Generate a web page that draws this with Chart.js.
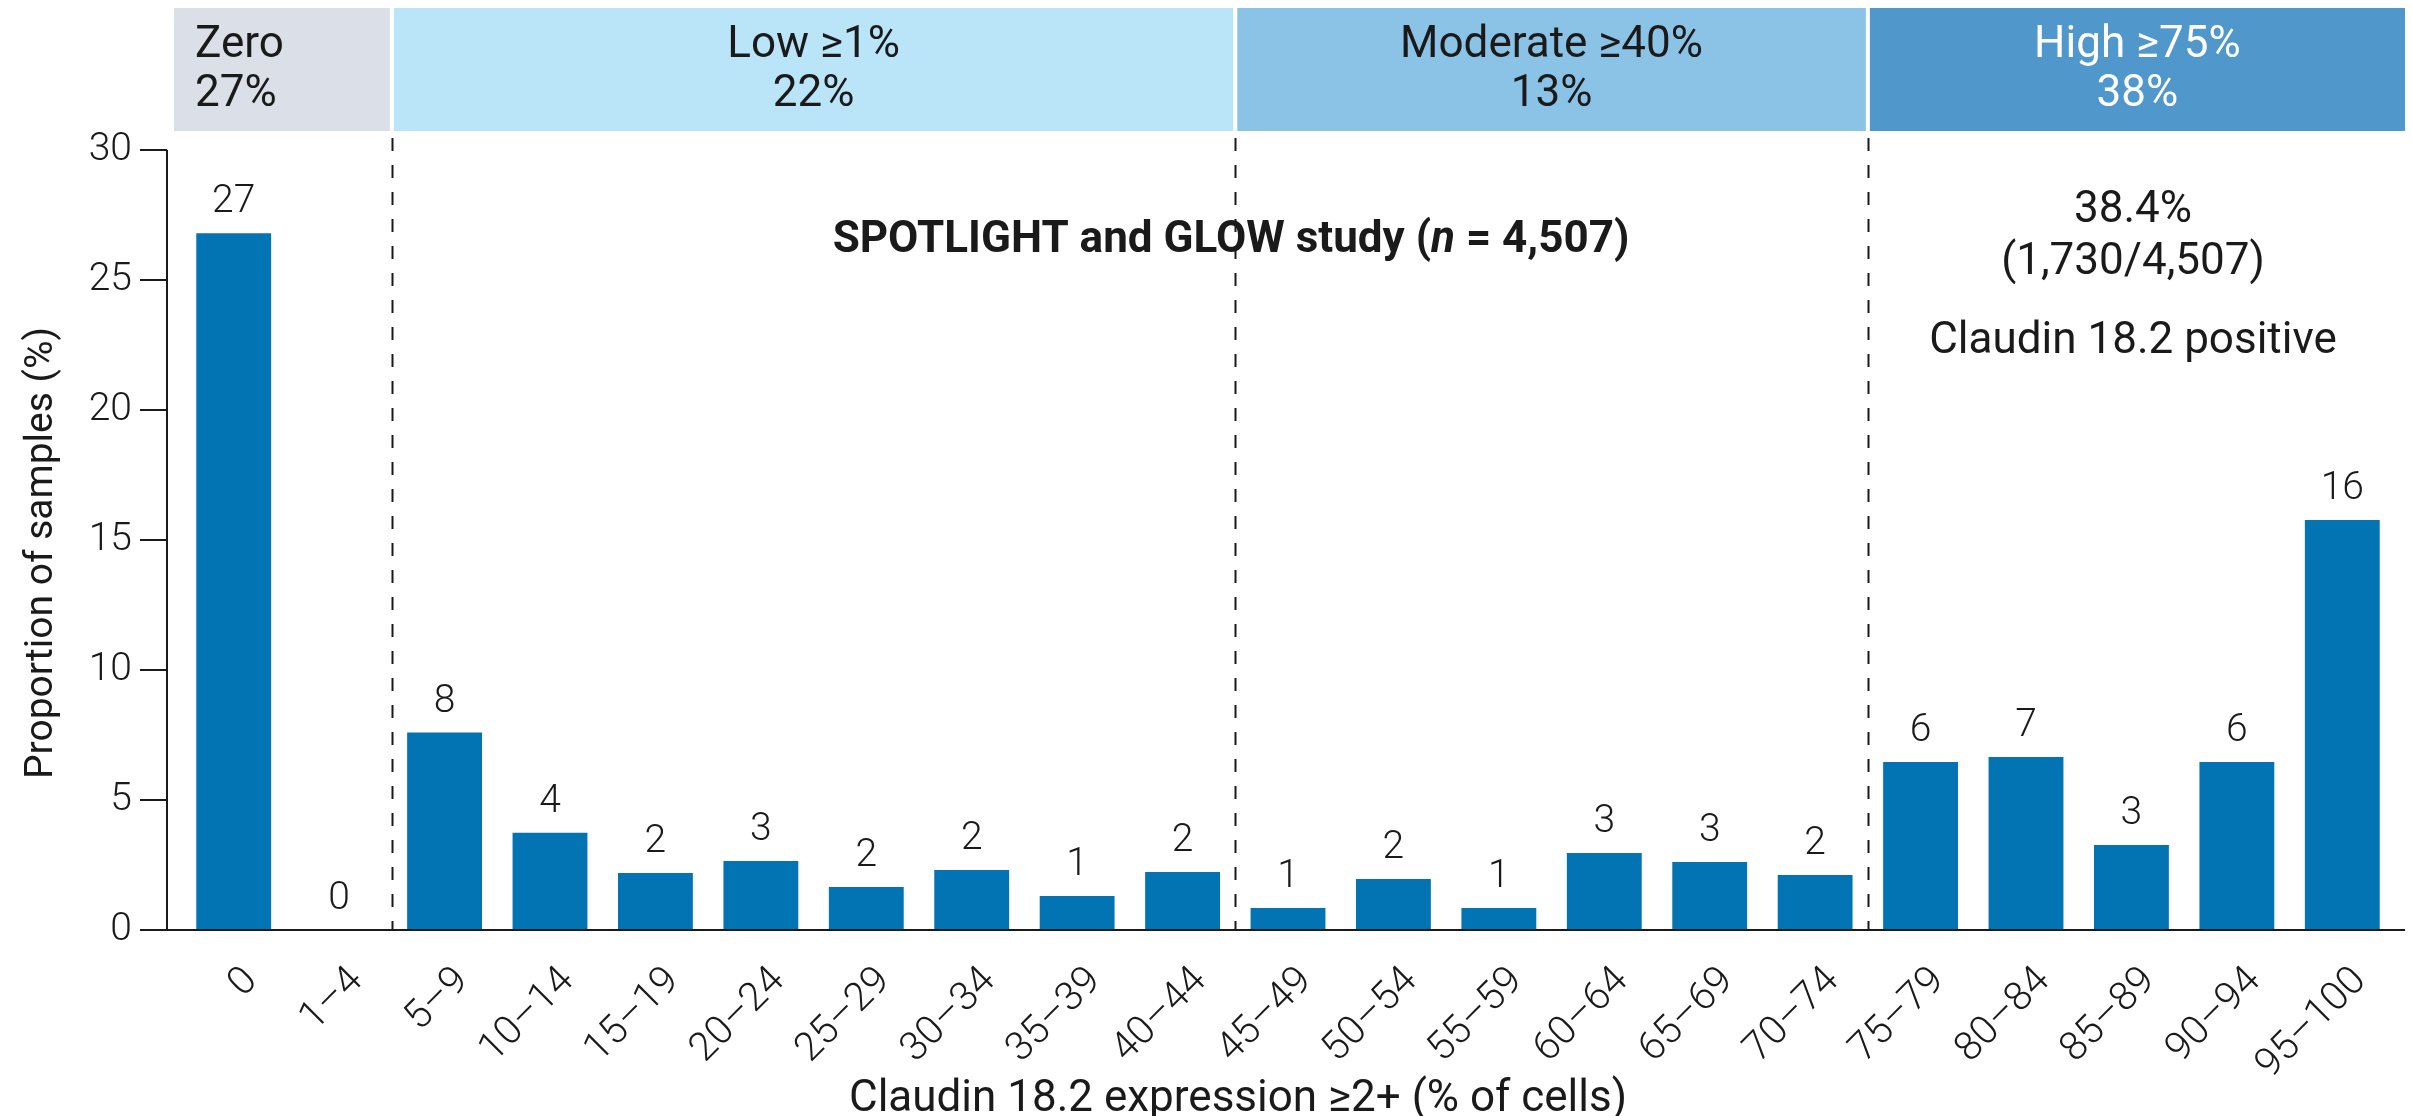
<!DOCTYPE html>
<html>
<head>
<meta charset="utf-8">
<script src="https://cdn.jsdelivr.net/npm/chart.js@4.4.1/dist/chart.umd.min.js"></script>
<style>
  html, body { margin: 0; padding: 0; background: #fff; }
</style>
</head>
<body>
<canvas id="myChart" width="2412" height="1116"></canvas>
<script>
// data
const categories = ['0', '1–4', '5–9', '10–14', '15–19', '20–24', '25–29', '30–34', '35–39', '40–44',
  '45–49', '50–54', '55–59', '60–64', '65–69', '70–74', '75–79', '80–84', '85–89', '90–94', '95–100'];
const proportions = [26.8, 0, 7.6, 3.74, 2.19, 2.65, 1.65, 2.31, 1.31, 2.23,
  0.85, 1.96, 0.85, 2.96, 2.62, 2.12, 6.46, 6.65, 3.27, 6.46, 15.77];
const yTicks = [0, 5, 10, 15, 20, 25, 30];

const bandNames = ['Zero', 'Low ≥1%', 'Moderate ≥40%', 'High ≥75%'];
const bandShares = ['27%', '22%', '13%', '38%'];
const bandFirstIndex = [0, 2, 10, 16];
const bandColors = ['#dadfe8', '#bae5f9', '#8ac3e6', '#5097cc'];
const bandTextColors = ['#1a1a1a', '#1a1a1a', '#1a1a1a', '#ffffff'];

const studyTitle = ['SPOTLIGHT and GLOW study (', 'n', ' = 4,507)'];
const positiveLines = ['38.4%', '(1,730/4,507)', 'Claudin 18.2 positive'];
const yTitle = 'Proportion of samples (%)';
const xTitle = 'Claudin 18.2 expression ≥2+ (% of cells)';

const FONT = 'Roboto';
const INK = '#1a1a1a';

const decor = {
  id: 'decor',
  beforeDraw(chart) {
    const {ctx, chartArea: a, scales: {x}} = chart;
    const half = (x.getPixelForValue(1) - x.getPixelForValue(0)) / 2;
    const edge = i => x.getPixelForValue(i) - half;
    ctx.save();
    bandNames.forEach((name, b) => {
      const first = bandFirstIndex[b];
      const next = b < bandNames.length - 1 ? bandFirstIndex[b + 1] : categories.length;
      const left = b === 0 ? a.left - 7 : edge(first) + 2;
      const right = b === bandNames.length - 1 ? edge(next) + 10 : edge(next) - 2;
      ctx.fillStyle = bandColors[b];
      ctx.fillRect(left, 8, right - left, 123);
      ctx.fillStyle = bandTextColors[b];
      ctx.font = `400 44px ${FONT}`;
      ctx.textBaseline = 'middle';
      if (b === 0) {
        ctx.textAlign = 'left';
        ctx.fillText(name, a.left + 14, 46);
        ctx.fillText(bandShares[b], a.left + 14, 95);
      } else {
        ctx.textAlign = 'center';
        const cx = (left + right) / 2;
        ctx.fillText(name, cx, 46);
        ctx.fillText(bandShares[b], cx, 95);
      }
    });
    ctx.restore();
  },
  beforeDatasetsDraw(chart) {
    const {ctx, scales: {x, y}} = chart;
    const half = (x.getPixelForValue(1) - x.getPixelForValue(0)) / 2;
    ctx.save();
    ctx.strokeStyle = INK;
    ctx.lineWidth = 2;
    ctx.setLineDash([13, 14]);
    bandFirstIndex.slice(1).forEach(i => {
      const px = Math.round(x.getPixelForValue(i) - half) + 0.5;
      ctx.beginPath();
      ctx.moveTo(px, 138);
      ctx.lineTo(px, y.getPixelForValue(0));
      ctx.stroke();
    });
    ctx.restore();
  },
  afterDatasetsDraw(chart) {
    const {ctx, chartArea: a, scales: {x, y}} = chart;
    const meta = chart.getDatasetMeta(0);
    const half = (x.getPixelForValue(1) - x.getPixelForValue(0)) / 2;
    ctx.save();
    // value labels
    ctx.fillStyle = INK;
    ctx.font = `300 39px ${FONT}`;
    ctx.textAlign = 'center';
    ctx.textBaseline = 'bottom';
    meta.data.forEach((bar, i) => {
      ctx.fillText(String(Math.round(proportions[i])), bar.x, bar.y - 11);
    });
    // axes
    const y0 = y.getPixelForValue(0);
    const axisX = a.left - 14;
    ctx.strokeStyle = INK;
    ctx.lineWidth = 2;
    ctx.beginPath();
    ctx.moveTo(axisX, y.getPixelForValue(30));
    ctx.lineTo(axisX, y0);
    ctx.moveTo(a.left - 41, y0);
    ctx.lineTo(x.getPixelForValue(categories.length - 1) + half + 10, y0);
    yTicks.forEach(t => {
      const py = y.getPixelForValue(t);
      ctx.moveTo(a.left - 41, py);
      ctx.lineTo(axisX, py);
    });
    ctx.stroke();
    // axis titles
    ctx.textBaseline = 'middle';
    ctx.textAlign = 'center';
    ctx.save();
    ctx.font = `400 39px ${FONT}`;
    ctx.translate(42, 553);
    ctx.rotate(-Math.PI / 2);
    ctx.fillText(yTitle, 0, 0);
    ctx.restore();
    ctx.font = `400 44px ${FONT}`;
    ctx.fillText(xTitle, 1238, 1100);
    // study title with italic n
    const parts = [
      [studyTitle[0], `700 44px ${FONT}`],
      [studyTitle[1], `italic 700 44px ${FONT}`],
      [studyTitle[2], `700 44px ${FONT}`]
    ];
    let total = 0;
    parts.forEach(p => { ctx.font = p[1]; total += ctx.measureText(p[0]).width; });
    let px = 1231 - total / 2;
    ctx.textAlign = 'left';
    parts.forEach(p => {
      ctx.font = p[1];
      ctx.fillText(p[0], px, 241);
      px += ctx.measureText(p[0]).width;
    });
    // positive annotation
    ctx.font = `400 44px ${FONT}`;
    ctx.textAlign = 'center';
    const ys = [211, 263, 342];
    positiveLines.forEach((t, i) => ctx.fillText(t, 2133, ys[i]));
    ctx.restore();
  }
};

new Chart(document.getElementById('myChart'), {
  type: 'bar',
  data: {
    labels: categories,
    datasets: [{
      data: proportions,
      backgroundColor: '#0273b3',
      barPercentage: 0.71,
      categoryPercentage: 1.0
    }]
  },
  options: {
    responsive: false,
    animation: false,
    layout: { padding: { left: 0, right: 17, top: 150, bottom: 0 } },
    plugins: {
      legend: { display: false },
      tooltip: { enabled: false }
    },
    scales: {
      x: {
        grid: { display: false, drawTicks: false },
        border: { display: false },
        ticks: {
          autoSkip: false,
          maxRotation: 45,
          minRotation: 45,
          padding: 28,
          labelOffset: 18,
          color: INK,
          font: { family: FONT, size: 40, weight: 300 }
        },
        afterFit(scale) { scale.height = 186; }
      },
      y: {
        min: 0,
        max: 30,
        grid: { display: false, drawTicks: false },
        border: { display: false },
        ticks: {
          stepSize: 5,
          padding: 49,
          color: INK,
          font: { family: FONT, size: 39, weight: 300 }
        },
        afterFit(scale) { scale.width = 181; }
      }
    }
  },
  plugins: [decor]
});
</script>
</body>
</html>
